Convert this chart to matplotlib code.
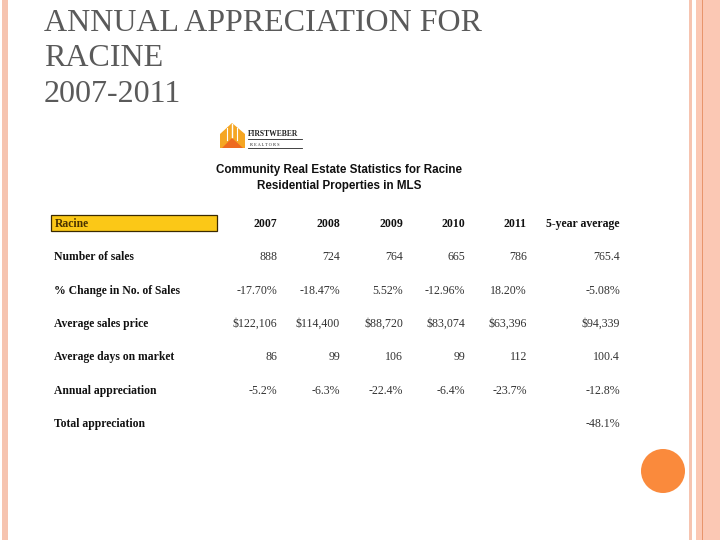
import matplotlib.pyplot as plt
from matplotlib.patches import Rectangle, Polygon, Circle

# slide text
title_lines = ["ANNUAL APPRECIATION FOR", "RACINE", "2007-2011"]
subtitle_lines = ["Community Real Estate Statistics for Racine",
                  "Residential Properties in MLS"]

# table data
corner = "Racine"
columns = ["2007", "2008", "2009", "2010", "2011", "5-year average"]
row_labels = ["Number of sales", "% Change in No. of Sales", "Average sales price",
              "Average days on market", "Annual appreciation", "Total appreciation"]
number_of_sales = ["888", "724", "764", "665", "786", "765.4"]
pct_change_sales = ["-17.70%", "-18.47%", "5.52%", "-12.96%", "18.20%", "-5.08%"]
avg_sales_price = ["$122,106", "$114,400", "$88,720", "$83,074", "$63,396", "$94,339"]
avg_days_on_market = ["86", "99", "106", "99", "112", "100.4"]
annual_appreciation = ["-5.2%", "-6.3%", "-22.4%", "-6.4%", "-23.7%", "-12.8%"]
total_appreciation = ["", "", "", "", "", "-48.1%"]
rows = [number_of_sales, pct_change_sales, avg_sales_price,
        avg_days_on_market, annual_appreciation, total_appreciation]

fig = plt.figure(figsize=(7.2, 5.4), dpi=100)
ax = fig.add_axes([0, 0, 1, 1])
ax.set_xlim(0, 720)
ax.set_ylim(540, 0)
ax.axis("off")

salmon = "#F6C4B0"
# slide borders
ax.add_patch(Rectangle((2, 0), 6, 540, color=salmon, lw=0))
ax.add_patch(Rectangle((689, 0), 3, 540, color=salmon, lw=0))
ax.add_patch(Rectangle((696, 0), 24, 540, color="#FBC8B4", lw=0))
ax.add_patch(Rectangle((701.5, 0), 1.2, 540, color="#E8956C", lw=0))
ax.add_patch(Circle((663, 471), 22, color="#FA8A3C", lw=0))

# title
baselines = [31, 66, 102]
for y, line in zip(baselines, title_lines):
    ax.text(44, y, line, fontsize=23, family="Liberation Serif",
            color="#5A5A5A", va="baseline", ha="left")

# logo
ax.add_patch(Polygon([(220, 134), (232, 123), (245, 134), (245, 148), (220, 148)],
                     closed=True, color="#F5A623", lw=0))
ax.add_patch(Polygon([(222, 148), (232, 138), (243, 148)], closed=True,
                     color="#EE6A1F", lw=0))
ax.plot([232, 232], [124, 137], color="white", lw=1)
ax.plot([227, 227], [128, 140], color="white", lw=0.8)
ax.plot([237, 237], [128, 140], color="white", lw=0.8)
ax.text(248, 136, "FIRSTWEBER", fontsize=5.5, family="Liberation Serif",
        weight="bold", color="#222222", va="baseline")
ax.plot([248, 302], [139, 139], color="#222222", lw=0.6)
ax.text(250, 146, "R E A L T O R S", fontsize=3.2, family="Liberation Serif",
        color="#222222", va="baseline")
ax.plot([248, 302], [148, 148], color="#222222", lw=0.6)

# subtitle
for i, line in enumerate(subtitle_lines):
    ax.text(339, 170 + i * 16, line, fontsize=8.4, family="Liberation Sans",
            weight="bold", color="#111111", ha="center", va="center")

# header row
ax.add_patch(Rectangle((51, 215), 166, 16, facecolor="#FBC817",
                       edgecolor="#3A2A00", lw=0.9))
ax.text(55, 224, corner, fontsize=8.4, family="Liberation Serif", weight="bold",
        color="#4A3300", va="center")
col_right = [277, 340, 403, 465, 527, 620]
for x, c in zip(col_right, columns):
    ax.text(x, 224, c, fontsize=8.5, family="Liberation Serif", weight="bold",
            color="#111111", ha="right", va="center")

# body rows
for r, (label, vals) in enumerate(zip(row_labels, rows)):
    y = 257.5 + r * 33.3
    ax.text(54, y, label, fontsize=8.4, family="Liberation Serif", weight="bold",
            color="#111111", va="center")
    for x, v in zip(col_right, vals):
        ax.text(x, y, v, fontsize=8.6, family="Liberation Serif",
                color="#333333", ha="right", va="center")

fig.savefig("out.png", dpi=100)
